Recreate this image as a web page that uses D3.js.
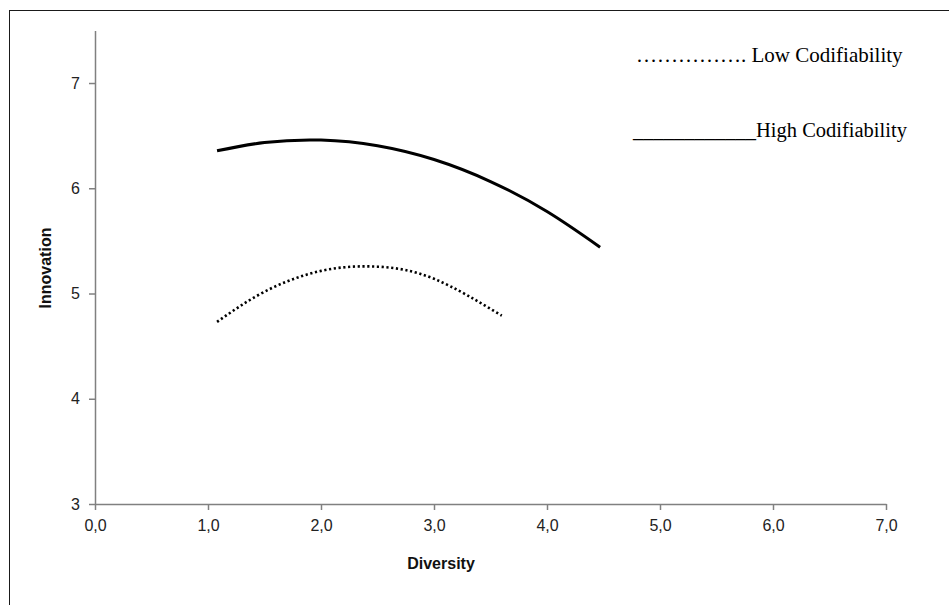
<!DOCTYPE html>
<html>
<head>
<meta charset="utf-8">
<script src="https://cdn.jsdelivr.net/npm/d3@7"></script>
<style>
  html, body { margin: 0; padding: 0; background: #fff; }
  svg { display: block; }
</style>
</head>
<body>
<div id="chart"></div>
<script>
// Data
const xTicks = [0, 1, 2, 3, 4, 5, 6, 7];
const yTicks = [3, 4, 5, 6, 7];

const highX = [1.08, 1.5, 2.0, 2.5, 3.0, 3.5, 4.0, 4.47];
const highY = [6.356, 6.435, 6.458, 6.404, 6.273, 6.064, 5.779, 5.44];

const lowX = [1.08, 1.5, 2.0, 2.5, 3.0, 3.6];
const lowY = [4.73, 5.017, 5.215, 5.255, 5.14, 4.79];

const legendLabels = ['\u2026\u2026\u2026\u2026\u2026. Low Codifiability', '____________High Codifiability'];

const width = 949, height = 605;

const svg = d3.select('#chart')
  .append('svg')
  .attr('width', width)
  .attr('height', height);

// outer frame (runs off the right/bottom of the picture)
svg.append('rect')
  .attr('x', 9.5).attr('y', 10.5)
  .attr('width', 980).attr('height', 640)
  .attr('fill', 'none')
  .attr('stroke', '#1a1a1a')
  .attr('stroke-width', 1);

const x = d3.scaleLinear().domain([0, 7]).range([95, 886]);
const y = d3.scaleLinear().domain([3, 7.5]).range([504, 30.4]);

const axisColor = '#808080';
const fmt = d => d.toFixed(1).replace('.', ',');

const xAxis = svg.append('g')
  .attr('transform', `translate(0,${y(3)})`)
  .call(d3.axisBottom(x).tickValues(xTicks).tickFormat(fmt).tickSize(6).tickSizeOuter(0).tickPadding(10));

const yAxis = svg.append('g')
  .attr('transform', `translate(${x(0)},0)`)
  .call(d3.axisLeft(y).tickValues(yTicks).tickFormat(d3.format('d')).tickSize(6).tickSizeOuter(0).tickPadding(9));

[xAxis, yAxis].forEach(a => {
  a.select('.domain').attr('stroke', axisColor).attr('stroke-width', 1.5);
  a.selectAll('.tick line').attr('stroke', axisColor).attr('stroke-width', 1.5);
  a.selectAll('.tick text')
    .attr('fill', '#222')
    .attr('font-family', 'Liberation Sans, Arial, sans-serif')
    .attr('font-size', 16);
});

// axis titles
svg.append('text')
  .attr('x', 441).attr('y', 569)
  .attr('text-anchor', 'middle')
  .attr('font-family', 'Liberation Sans, Arial, sans-serif')
  .attr('font-size', 16)
  .attr('font-weight', 'bold')
  .attr('fill', '#111')
  .text('Diversity');

svg.append('text')
  .attr('transform', 'translate(51,268) rotate(-90)')
  .attr('text-anchor', 'middle')
  .attr('font-family', 'Liberation Sans, Arial, sans-serif')
  .attr('font-size', 16)
  .attr('font-weight', 'bold')
  .attr('fill', '#111')
  .text('Innovation');

// curves
const line = d3.line()
  .x(d => x(d[0]))
  .y(d => y(d[1]))
  .curve(d3.curveNatural);

svg.append('path')
  .datum(highX.map((v, i) => [v, highY[i]]))
  .attr('d', line)
  .attr('fill', 'none')
  .attr('stroke', '#000')
  .attr('stroke-width', 3);

svg.append('path')
  .datum(lowX.map((v, i) => [v, lowY[i]]))
  .attr('d', line)
  .attr('fill', 'none')
  .attr('stroke', '#000')
  .attr('stroke-width', 2.6)
  .attr('stroke-dasharray', '2.2,2.6');

// legend (plain text, as in the source figure)
svg.selectAll('.legend')
  .data(legendLabels)
  .enter()
  .append('text')
  .attr('class', 'legend')
  .attr('x', (d, i) => i === 0 ? 636 : 633)
  .attr('y', (d, i) => i === 0 ? 62 : 137)
  .attr('font-family', 'Liberation Serif, Times New Roman, serif')
  .attr('font-size', (d, i) => i === 0 ? 21 : 20.5)
  .attr('fill', '#000')
  .text(d => d);
</script>
</body>
</html>
